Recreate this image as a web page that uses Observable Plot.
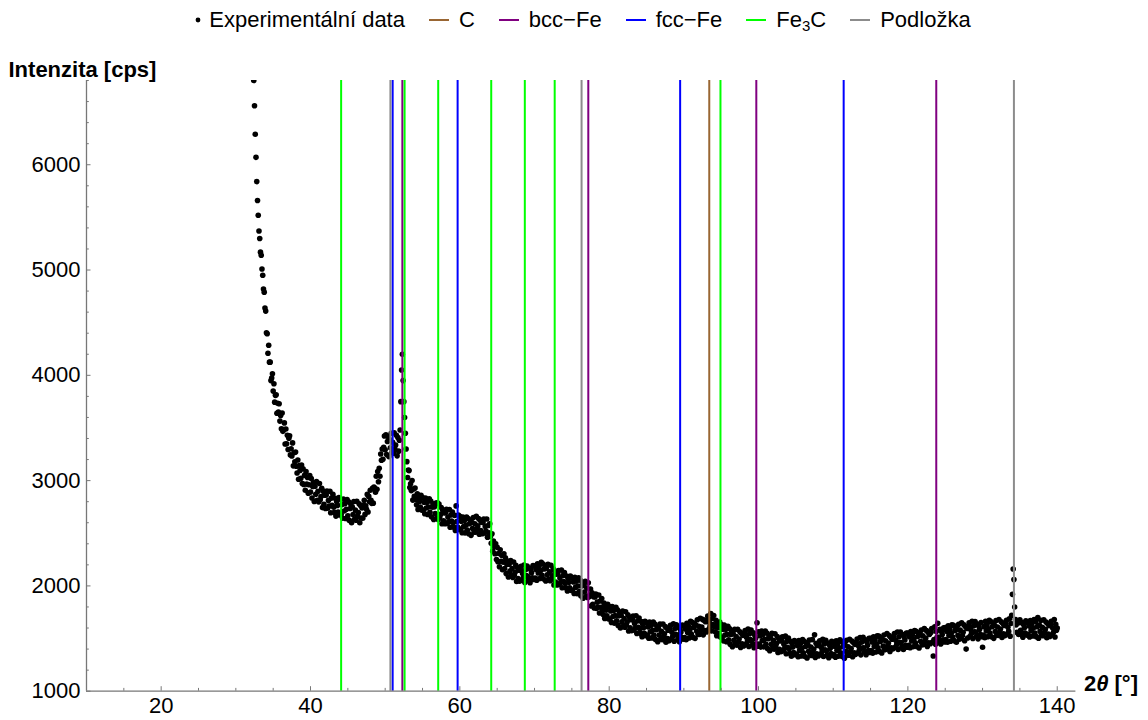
<!DOCTYPE html>
<html>
<head>
<meta charset="utf-8">
<script src="https://cdn.jsdelivr.net/npm/d3@7"></script>
<script src="https://cdn.jsdelivr.net/npm/@observablehq/plot@0.6"></script>
<style>
  html, body { margin: 0; padding: 0; background: #fff; }
  body { font-family: "Liberation Sans", Arial, sans-serif; width: 1148px; }
  #legend { height: 40px; display: flex; justify-content: center; align-items: center; font-size: 22px; color: #000; padding-left: 18px; box-sizing: border-box; }
  .item { display: flex; align-items: center; margin: 0 12px; white-space: nowrap; }
  .item svg { margin-right: 10px; }
  sub { font-size: 15px; vertical-align: -4px; line-height: 0; }
</style>
</head>
<body>
<div id="legend"></div>
<div id="chart"></div>
<script>
// ---- data ----
const thetaStart = 32.4;   // first measured 2θ [°]
const thetaStep = 0.1;     // measurement step [°]
const intensity = [
6800,6560,6290,6070,5840,5660,
5520,5370,5300,5170,5140,5010,4950,4820,4790,4640,
4610,4405,4395,4210,4285,4125,4125,3950,3975,4015,
3850,3920,3745,3810,3815,3640,3735,3650,3730,3565,
3618,3492,3642,3468,3484,3548,3348,3490,3350,3431,
3296,3403,3425,3244,3302,3234,3358,3140,3264,3178,
3271,3136,3073,3196,3013,3142,3096,3021,3149,2972,
3112,2964,3050,2909,3085,2967,3029,2881,2961,3047,
2892,3019,2835,2944,2981,2802,2947,2870,2991,2813,
2898,2797,2972,2818,2849,2928,2743,2900,2775,2861,
2736,2863,2900,2739,2812,2759,2898,2695,2834,2766,
2871,2748,2698,2833,2663,2802,2764,2702,2838,2674,
2822,2679,2772,2642,2825,2712,2781,2640,2727,2820,
2667,2798,2622,2735,2776,2601,2750,2677,2802,2633,
2720,2624,2804,2660,2696,2780,2600,2763,2645,2741,
2643,2769,2813,2679,2761,2727,2869,2702,2850,2799,
2908,2813,2784,2926,2786,2939,2926,2890,3042,2918,
3086,2989,3118,3042,3253,3193,3300,3203,3316,3424,
3293,3436,3247,3371,3417,3228,3391,3312,3449,3267,
3365,3260,3455,3299,3338,3430,3235,3410,3280,3384,
3480,3750,4050,4200,3950,3750,3600,3450,3300,3180,
3030,3100,3095,2935,2970,2905,3000,2815,2920,2850,
2930,2820,2770,2875,2725,2840,2805,2750,2860,2720,
2840,2720,2795,2685,2835,2740,2795,2678,2750,2827,
2700,2806,2657,2748,2779,2630,2751,2687,2788,2644,
2790,2631,2777,2653,2679,2745,2591,2722,2618,2694,
2590,2696,2727,2593,2654,2610,2726,2557,2673,2615,
2702,2600,2557,2670,2527,2760,2612,2560,2672,2535,
2660,2540,2615,2505,2655,2563,2621,2504,2577,2655,
2530,2640,2495,2590,2625,2480,2605,2545,2650,2510,
2590,2510,2660,2540,2570,2640,2490,2625,2525,2605,
2495,2602,2635,2503,2565,2520,2635,2463,2573,2505,
2590,2470,2405,2495,2330,2425,2375,2305,2400,2250,
2366,2229,2308,2182,2343,2233,2290,2153,2226,2306,
2165,2268,2117,2206,2235,2085,2205,2140,2240,2095,
2165,2081,2227,2103,2129,2195,2042,2174,2071,2148,
2045,2153,2186,2055,2119,2078,2198,2033,2153,2098,
2188,2090,2052,2169,2031,2153,2125,2077,2194,2061,
2188,2075,2157,2054,2211,2123,2185,2070,2145,2225,
2100,2210,2065,2160,2193,2046,2169,2105,2206,2062,
2133,2049,2195,2071,2097,2163,2009,2140,2036,2112,
2008,2115,2147,2014,2076,2033,2150,1982,2099,2041,
2128,2025,1982,2094,1951,2068,2035,1982,2094,1956,
2078,1960,2037,1929,2081,1988,2045,1927,1999,2076,
1948,2055,1907,1999,2031,1883,2005,1942,2044,1900,
1980,1890,2030,1897,1913,1970,1810,1935,1825,1898,
1790,1894,1923,1787,1846,1800,1914,1743,1857,1796,
1880,1774,1728,1837,1691,1805,1770,1715,1825,1685,
1805,1686,1762,1653,1804,1710,1766,1647,1719,1796,
1668,1774,1625,1717,1749,1600,1722,1659,1761,1618,
1690,1607,1754,1631,1658,1725,1572,1704,1601,1678,
1575,1682,1714,1581,1643,1600,1717,1549,1666,1608,
1695,1592,1549,1661,1518,1635,1603,1551,1664,1527,
1650,1533,1611,1504,1657,1565,1623,1506,1579,1657,
1530,1638,1491,1584,1617,1470,1594,1533,1637,1496,
1570,1489,1638,1517,1546,1615,1465,1600,1500,1580,
1480,1590,1625,1495,1560,1520,1640,1475,1595,1540,
1630,1531,1492,1608,1469,1590,1561,1512,1628,1495,
1622,1509,1591,1488,1645,1557,1619,1506,1583,1665,
1542,1654,1511,1608,1645,1502,1629,1571,1678,1540,
1617,1540,1693,1576,1609,1682,1535,1673,1576,1659,
1562,1675,1713,1586,1654,1616,1738,1573,1691,1633,
1718,1612,1565,1673,1526,1639,1603,1547,1656,1515,
1634,1513,1588,1478,1628,1533,1589,1470,1541,1617,
1488,1595,1447,1539,1571,1423,1546,1484,1587,1445,
1519,1438,1587,1466,1495,1565,1415,1550,1450,1530,
1430,1540,1575,1445,1510,1470,1590,1425,1545,1490,
1580,1480,1440,1554,1413,1532,1501,1450,1650,1427,
1565,1448,1526,1419,1572,1480,1538,1421,1494,1572,
1445,1553,1406,1499,1532,1385,1508,1446,1549,1407,
1480,1398,1546,1424,1452,1520,1368,1501,1399,1477,
1375,1483,1516,1384,1447,1405,1523,1356,1474,1417,
1505,1403,1361,1474,1332,1450,1419,1368,1482,1346,
1470,1354,1433,1327,1481,1390,1450,1335,1410,1490,
1365,1475,1330,1425,1460,1315,1440,1380,1485,1345,
1420,1340,1490,1370,1400,1535,1320,1455,1355,1435,
1334,1444,1479,1349,1414,1374,1494,1329,1449,1394,
1483,1383,1343,1458,1318,1438,1408,1358,1473,1338,
1463,1348,1428,1323,1478,1388,1448,1333,1408,1488,
1364,1474,1329,1424,1459,1314,1439,1379,1484,1344,
1421,1342,1493,1374,1405,1476,1327,1463,1364,1445,
1350,1460,1495,1365,1430,1390,1510,1345,1465,1410,
1512,1412,1372,1487,1347,1467,1437,1387,1502,1367,
1502,1387,1467,1362,1517,1427,1487,1372,1447,1527,
1413,1523,1378,1473,1508,1363,1488,1428,1533,1393,
1478,1398,1548,1428,1458,1528,1378,1513,1413,1493,
1402,1512,1547,1417,1482,1442,1562,1397,1517,1462,
1562,1462,1422,1537,1397,1517,1487,1437,1552,1417,
1552,1437,1517,1412,1567,1477,1537,1422,1497,1577,
1460,1570,1425,1520,1555,1410,1535,1475,1580,1440,
1525,1445,1595,1475,1505,1575,1425,1560,1460,1540,
1451,1561,1596,1466,1335,1491,1611,1446,1566,1511,
1645,1513,1473,1588,1448,1568,1538,1488,1603,1468,
1605,1490,1570,1465,1620,1530,1590,1475,1550,1630,
1515,1625,1480,1575,1610,1465,1590,1530,1635,1495,
1580,1500,1650,1530,1560,1630,1480,1615,1400,1595,
1505,1615,1650,1520,1585,1545,1665,1500,1620,1565,
1662,1562,1522,1637,1497,1617,1587,1537,1652,1517,
1418,1533,1613,1508,1663,1573,1633,1518,1593,1673,
1552,1662,1517,1612,1647,1502,1627,1567,1672,1532,
1610,1530,1680,1560,1590,1660,1510,1645,1545,1625,
1528,1638,1673,1543,1608,1568,1688,1523,1643,1720,
1920,2160,2060,1800,1680,1630,1560,1660,1540,1650,
1678,1578,1538,1653,1513,1633,1603,1553,1668,1533,
1655,1540,1620,1515,1670,1580,1640,1525,1600,1680,
1553,1663,1518,1613,1700,1503,1628,1568,1673,1533,
1607,1527,1677,1557,1587,1657,1507,1642,1542,1622,
1520,1630,1665,1535,1600,1560,1680,1515,1635,1580,
1600
];

const phaseNames  = ["C", "bcc\u2212Fe", "fcc\u2212Fe", "Fe3C", "Podložka"];
const phaseColors = ["#996633", "#800080", "#0000ff", "#00ff00", "#8c8c8c"];
const linesC         = [93.4];
const linesBccFe     = [52.3, 77.2, 99.7, 123.8];
const linesFccFe     = [51.0, 59.7, 89.5, 111.4];
const linesFe3C      = [44.1, 52.6, 57.1, 64.2, 68.7, 72.7, 94.9];
const linesPodlozka  = [50.7, 76.3, 134.2];

const xDomain = [10, 142.5];
const yDomain = [1000, 6800];
const xLabelTicks = [20, 40, 60, 80, 100, 120, 140];
const xMinorTicks = [15, 25, 30, 35, 45, 50, 55, 65, 70, 75, 85, 90, 95, 105, 110, 115, 125, 130, 135];
const yLabelTicks = [1000, 2000, 3000, 4000, 5000, 6000];
const yMinorTicks = [1200,1400,1600,1800,2200,2400,2600,2800,3200,3400,3600,3800,4200,4400,4600,4800,5200,5400,5600,5800,6200,6400,6600,6800];

const dataLabel = "Experimentální data";
const yTitle = "Intenzita [cps]";
const xTitle = "2θ [°]";

// ---- build tables ----
const points = intensity.map((v, i) => ({theta: +(thetaStart + i * thetaStep).toFixed(2), intensity: v}));
const phaseLines = [
  ...linesC.map(t => ({theta: t, phase: phaseNames[0]})),
  ...linesBccFe.map(t => ({theta: t, phase: phaseNames[1]})),
  ...linesFccFe.map(t => ({theta: t, phase: phaseNames[2]})),
  ...linesFe3C.map(t => ({theta: t, phase: phaseNames[3]})),
  ...linesPodlozka.map(t => ({theta: t, phase: phaseNames[4]}))
];

// ---- legend ----
const legend = document.getElementById("legend");
{
  const it = document.createElement("div");
  it.className = "item";
  it.innerHTML = `<svg width="6" height="10" style="margin-right:8px"><circle cx="3" cy="5" r="2.4" fill="#000"/></svg><span>${dataLabel}</span>`;
  legend.appendChild(it);
}
phaseNames.forEach((n, i) => {
  const it = document.createElement("div");
  it.className = "item";
  const label = n === "Fe3C" ? "Fe<sub>3</sub>C" : n;
  it.innerHTML = `<svg width="20" height="10"><line x1="0" x2="20" y1="5" y2="5" stroke="${phaseColors[i]}" stroke-width="2"/></svg><span>${label}</span>`;
  legend.appendChild(it);
});

// ---- chart ----
const axisColor = "#777";
const chart = Plot.plot({
  width: 1148,
  height: 680,
  marginLeft: 86,
  marginRight: 72.6,
  marginTop: 40,
  marginBottom: 29.3,
  x: {domain: xDomain, label: null},
  y: {domain: yDomain, label: null},
  color: {domain: phaseNames, range: phaseColors},
  style: {fontFamily: "Liberation Sans, Arial, sans-serif", fontSize: "22px", color: "#000", background: "#fff", overflow: "visible"},
  marks: [
    Plot.dot(points, {x: "theta", y: "intensity", r: 2.8, fill: "#000", stroke: "none", clip: true}),
    Plot.ruleX(phaseLines, {x: "theta", stroke: "phase", strokeWidth: 2}),
    Plot.ruleY([yDomain[0]], {stroke: axisColor, strokeWidth: 1.3}),
    Plot.ruleX([xDomain[0]], {stroke: axisColor, strokeWidth: 1.3}),
    Plot.axisX({ticks: xLabelTicks, tickSize: 4.5, dy: -4.5, stroke: axisColor, tickFormat: () => "", label: null}),
    Plot.axisX({ticks: xMinorTicks, tickSize: 2.8, dy: -2.8, stroke: axisColor, tickFormat: () => "", label: null}),
    Plot.axisX({ticks: xLabelTicks, tickSize: 0, tickPadding: 6, fontSize: 22, tickFormat: d => String(d), label: null}),
    Plot.axisY({ticks: yLabelTicks, tickSize: 4.5, dx: 4.5, stroke: axisColor, tickFormat: () => "", label: null}),
    Plot.axisY({ticks: yMinorTicks, tickSize: 2.8, dx: 2.8, stroke: axisColor, tickFormat: () => "", label: null}),
    Plot.axisY({ticks: yLabelTicks, tickSize: 0, tickPadding: 6, fontSize: 22, tickFormat: d => String(d), label: null}),
    Plot.text([yTitle], {text: d => d, frameAnchor: "top-left", dx: -78, dy: -19, textAnchor: "start", fontWeight: "bold", fontSize: 22}),
    Plot.text([xTitle], {text: d => d, frameAnchor: "bottom-right", dx: 8, dy: 0, textAnchor: "start", fontWeight: "bold", fontSize: 22})
  ]
});
document.getElementById("chart").appendChild(chart);

// italic theta in x title
d3.select(chart).selectAll("text").filter(function() { return this.textContent === xTitle; })
  .each(function() {
    const t = d3.select(this);
    t.text(null);
    t.append("tspan").text("2");
    t.append("tspan").attr("font-style", "italic").text("θ");
    t.append("tspan").text(" [°]");
  });
</script>
</body>
</html>
